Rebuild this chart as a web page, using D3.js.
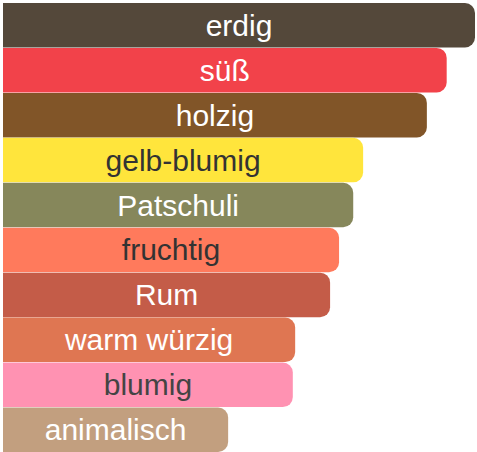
<!DOCTYPE html>
<meta charset="utf-8">
<style>
  body { margin: 0; background: #fff; }
</style>
<body>
<div id="chart"></div>
<script src="https://d3js.org/d3.v7.min.js"></script>
<script>

// accords (labels), strength values, colours
const labels = ["erdig", "süß", "holzig", "gelb-blumig", "Patschuli", "fruchtig", "Rum", "warm würzig", "blumig", "animalisch"];
const values = [100, 94, 89.8, 76.3, 74.2, 71.2, 69.3, 61.9, 61.4, 47.7];
const colors = ["#54483a", "#f2424a", "#815528", "#ffe53c", "#86875b", "#ff7a5c", "#c45c48", "#df7652", "#ff92b2", "#c29f7f"];
const textColors = ["#fff", "#fff", "#fff", "#333", "#fff", "#333", "#fff", "#fff", "#444", "#fff"];

const W = 477, H = 452;
const margin = {top: 3, right: 2, bottom: 0, left: 3};

const svg = d3.select("#chart")
  .append("svg")
    .attr("width", W)
    .attr("height", H);

const x = d3.scaleLinear()
  .domain([0, 100])
  .range([margin.left, W - margin.right]);

const y = d3.scaleBand()
  .domain(labels)
  .range([margin.top, H - margin.bottom])
  .paddingInner(0.01);

// bar with rounded right corners only
function barPath(x0, y0, w, h, r) {
  r = Math.min(r, w, h / 2);
  return `M${x0},${y0}H${x0 + w - r}A${r},${r} 0 0 1 ${x0 + w},${y0 + r}` +
         `V${y0 + h - r}A${r},${r} 0 0 1 ${x0 + w - r},${y0 + h}H${x0}Z`;
}

const g = svg.selectAll("g.bar")
  .data(labels)
  .join("g")
    .attr("class", "bar");

g.append("path")
  .attr("d", (d, i) => barPath(x(0), y(d), x(values[i]) - x(0), y.bandwidth(), 10))
  .attr("fill", (d, i) => colors[i]);

g.append("text")
  .attr("x", (d, i) => (x(0) + x(values[i])) / 2)
  .attr("y", d => y(d) + y.bandwidth() / 2)
  .attr("dy", "0.35em")
  .attr("text-anchor", "middle")
  .attr("font-family", "Liberation Sans, Arial, sans-serif")
  .attr("font-size", "30px")
  .attr("fill", (d, i) => textColors[i])
  .text(d => d);

</script>
</body>
